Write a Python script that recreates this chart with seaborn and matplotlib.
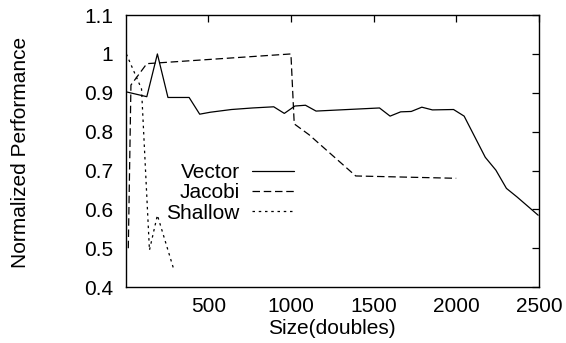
import matplotlib
matplotlib.use("Agg")
import matplotlib.pyplot as plt
import seaborn as sns
import pandas as pd

# values
vector_x = [8, 128, 192, 256, 384, 448, 512, 640, 768, 896, 960, 1024, 1088, 1152,
            1536, 1600, 1664, 1728, 1792, 1856, 1984, 2048, 2176, 2240, 2304, 2368, 2496]
vector_y = [0.902, 0.890, 1.0, 0.888, 0.888, 0.845, 0.850, 0.857, 0.861, 0.864, 0.847, 0.866,
            0.868, 0.853, 0.861, 0.840, 0.851, 0.852, 0.863, 0.856, 0.857, 0.840, 0.734,
            0.701, 0.654, 0.632, 0.585]

jacobi_x = [16, 32, 128, 1000, 1020, 1110, 1392, 2000]
jacobi_y = [0.50, 0.92, 0.975, 1.0, 0.82, 0.792, 0.686, 0.680]

shallow_x = [4, 96, 144, 192, 288]
shallow_y = [1.0, 0.91, 0.495, 0.585, 0.45]

series_names = ["Vector", "Jacobi", "Shallow"]
x_ticks = [500, 1000, 1500, 2000, 2500]
y_ticks = [0.4, 0.5, 0.6, 0.7, 0.8, 0.9, 1.0, 1.1]
y_tick_labels = ["0.4", "0.5", "0.6", "0.7", "0.8", "0.9", "1", "1.1"]

df = pd.concat([
    pd.DataFrame({"size": vector_x, "perf": vector_y, "app": "Vector"}),
    pd.DataFrame({"size": jacobi_x, "perf": jacobi_y, "app": "Jacobi"}),
    pd.DataFrame({"size": shallow_x, "perf": shallow_y, "app": "Shallow"}),
])

sns.set_style("white")
plt.rcParams["font.family"] = ["Liberation Sans", "DejaVu Sans"]
plt.rcParams["text.color"] = "black"
plt.rcParams["axes.labelcolor"] = "black"

fs = 15
fig = plt.figure(figsize=(5.66, 3.43), dpi=100)
ax = fig.add_axes([0.222, 0.163, 0.730, 0.793])

sns.lineplot(
    data=df, x="size", y="perf", style="app", style_order=series_names,
    dashes={"Vector": "", "Jacobi": (6, 3), "Shallow": (2, 3)},
    color="black", linewidth=0.9, sort=False, estimator=None, ax=ax,
)

ax.set_xlim(0, 2500)
ax.set_ylim(0.4, 1.1)
ax.set_xticks(x_ticks)
ax.set_yticks(y_ticks)
ax.set_yticklabels(y_tick_labels)
ax.tick_params(direction="in", top=True, right=True, length=5, width=0.9,
               labelsize=fs, colors="black")
ax.tick_params(axis="x", pad=7)
ax.tick_params(axis="y", pad=9)
for s in ax.spines.values():
    s.set_color("black")
    s.set_linewidth(1.0)

ax.set_xlabel("Size(doubles)", fontsize=fs, color="black")
ax.xaxis.set_label_coords(0.5, -0.118)
ax.set_ylabel("Normalized Performance", fontsize=fs, color="black")
ax.yaxis.set_label_coords(-0.232, 0.495)

leg = ax.legend(
    frameon=False, markerfirst=False, fontsize=fs, handlelength=2.0,
    handletextpad=0.6, labelspacing=0.05, borderpad=0, borderaxespad=0,
    loc="center right", bbox_to_anchor=(294 / 566, 1 - 193 / 343),
    bbox_transform=fig.transFigure,
)
for t in leg.get_texts():
    t.set_color("black")

fig.savefig("out.png", dpi=100)
